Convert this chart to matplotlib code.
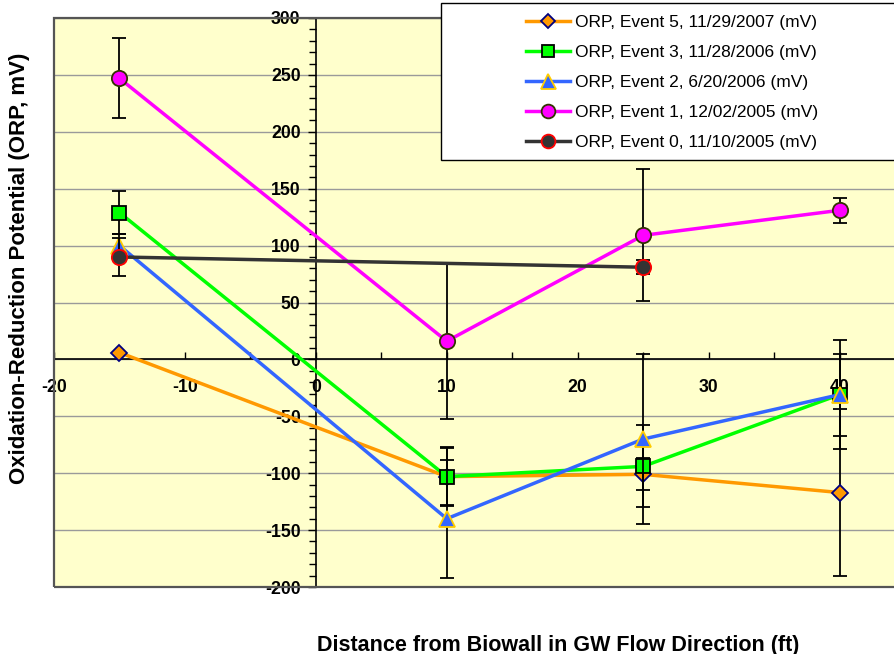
import matplotlib
matplotlib.use("Agg")
import matplotlib.pyplot as plt
from matplotlib.lines import Line2D
from matplotlib.patches import Rectangle
import numpy as np

# ---------------- data ----------------
x_pos = [-15, 10, 25, 40]

ev5_y = [6, -103, -101, -117]
ev5_err = [0, 26, 14, 73]

ev3_y = [129, -103, -94, -31]
ev3_err = [19, 25, 36, 36]

ev2_y = [100, -140, -70, -31]
ev2_err = [10, 52, 75, 48]

ev1_y = [247, 16, 109, 131]
ev1_err = [35, 68, 58, 11]

ev0_x = [-15, 25]
ev0_y = [90, 81]
ev0_err = [17, 6]

labels = ["ORP, Event 5, 11/29/2007 (mV)",
          "ORP, Event 3, 11/28/2006 (mV)",
          "ORP, Event 2, 6/20/2006 (mV)",
          "ORP, Event 1, 12/02/2005 (mV)",
          "ORP, Event 0, 11/10/2005 (mV)"]

x_ticks = [-20, -15, -10, -5, 0, 5, 10, 15, 20, 25, 30, 35, 40]
x_ticklabels = ["-20", "", "-10", "", "0", "", "10", "", "20", "", "30", "", "40"]
y_ticks = [-200, -150, -100, -50, 0, 50, 100, 150, 200, 250, 300]

xlabel = "Distance from Biowall in GW Flow Direction (ft)"
ylabel = "Oxidation-Reduction Potential (ORP, mV)"

# ---------------- style ----------------
plt.rcParams['font.family'] = ['Liberation Sans', 'DejaVu Sans']

W, H = 894, 654
fig = plt.figure(figsize=(W / 100, H / 100), dpi=100)
fig.patch.set_facecolor('white')

ax = fig.add_axes([54 / W, 1 - 587 / H, (905 - 54) / W, (587 - 18) / H])
ax.set_xlim(-20, 45)
ax.set_ylim(-200, 300)
ax.set_facecolor('#FFFFCC')

for s in ['top', 'right']:
    ax.spines[s].set_visible(False)
ax.spines['left'].set_position(('data', 0))
ax.spines['bottom'].set_position(('data', 0))
ax.spines['left'].set_color('black')
ax.spines['bottom'].set_color('black')
ax.spines['left'].set_linewidth(1.2)
ax.spines['bottom'].set_linewidth(1.2)

border = Rectangle((0, 0), 1, 1, transform=ax.transAxes, fill=False,
                   ec='#555555', lw=1.6, clip_on=False, zorder=10)
ax.add_patch(border)

ax.set_xticks(x_ticks)
ax.set_xticklabels(x_ticklabels, fontweight='bold', fontsize=12.7)
ax.tick_params(axis='x', direction='in', length=5, width=1, pad=14)

ax.set_yticks(y_ticks)
ax.set_yticklabels([str(v) for v in y_ticks], fontweight='bold', fontsize=12.7)
ax.set_yticks(np.arange(-200, 301, 10), minor=True)
ax.tick_params(axis='y', which='major', direction='out', length=6, width=1, pad=5)
ax.tick_params(axis='y', which='minor', direction='out', length=5, width=1)
ax.tick_params(axis='x', which='minor', length=0)

ax.yaxis.grid(True, which='major', color='#9A9A9A', lw=1)
ax.set_axisbelow(True)

series = [
    (x_pos, ev5_y, ev5_err, '#FF9900', 'D', '#FF9900', '#000080', 8.3),
    (x_pos, ev3_y, ev3_err, '#00FF00', 's', '#00FF00', '#000000', 10.3),
    (x_pos, ev2_y, ev2_err, '#3366FF', '^', '#3366FF', '#FFCC00', 12),
    (x_pos, ev1_y, ev1_err, '#FF00FF', 'o', '#FF00FF', '#333300', 11),
    (ev0_x, ev0_y, ev0_err, '#333333', 'o', '#333333', '#FF0000', 11),
]

handles = []
for i, (xs, ys, es, lc, mk, mfc, mec, ms) in enumerate(series):
    xs = np.array(xs, float)
    ys = np.array(ys, float)
    es = np.array(es, float)
    m = es > 0
    ax.errorbar(xs[m], ys[m], yerr=es[m], fmt='none', ecolor='black',
                elinewidth=1.3, capsize=5, capthick=1.3, zorder=3 + 2 * i)
    ax.plot(xs, ys, color=lc, lw=2.5, marker=mk, markerfacecolor=mfc,
            markeredgecolor=mec, markeredgewidth=1.3, markersize=ms,
            zorder=4 + 2 * i, clip_on=False)
    handles.append(Line2D([], [], color=lc, lw=2.5, marker=mk, markerfacecolor=mfc,
                          markeredgecolor=mec, markeredgewidth=1.3, markersize=ms * 0.9))

# legend box
fig.patches.append(Rectangle((441 / W, 1 - 160 / H), (900 - 441) / W, 157 / H,
                             transform=fig.transFigure, fc='white', ec='black',
                             lw=1, zorder=20))
leg = fig.legend(handles, labels, loc='upper left',
                 bbox_to_anchor=(526 / W, 1 - 15 / H), bbox_transform=fig.transFigure,
                 frameon=False, fontsize=12.5, handlelength=2.55, handletextpad=0.25,
                 labelspacing=0.86, borderpad=0, borderaxespad=0)
leg.set_zorder(30)

fig.text(558 / W, 1 - 645 / H, xlabel, ha='center', va='center',
         fontsize=15.5, fontweight='bold')
fig.text(20 / W, 1 - 268 / H, ylabel, ha='center', va='center', rotation=90,
         fontsize=16, fontweight='bold')

fig.savefig('out.png', dpi=100)
